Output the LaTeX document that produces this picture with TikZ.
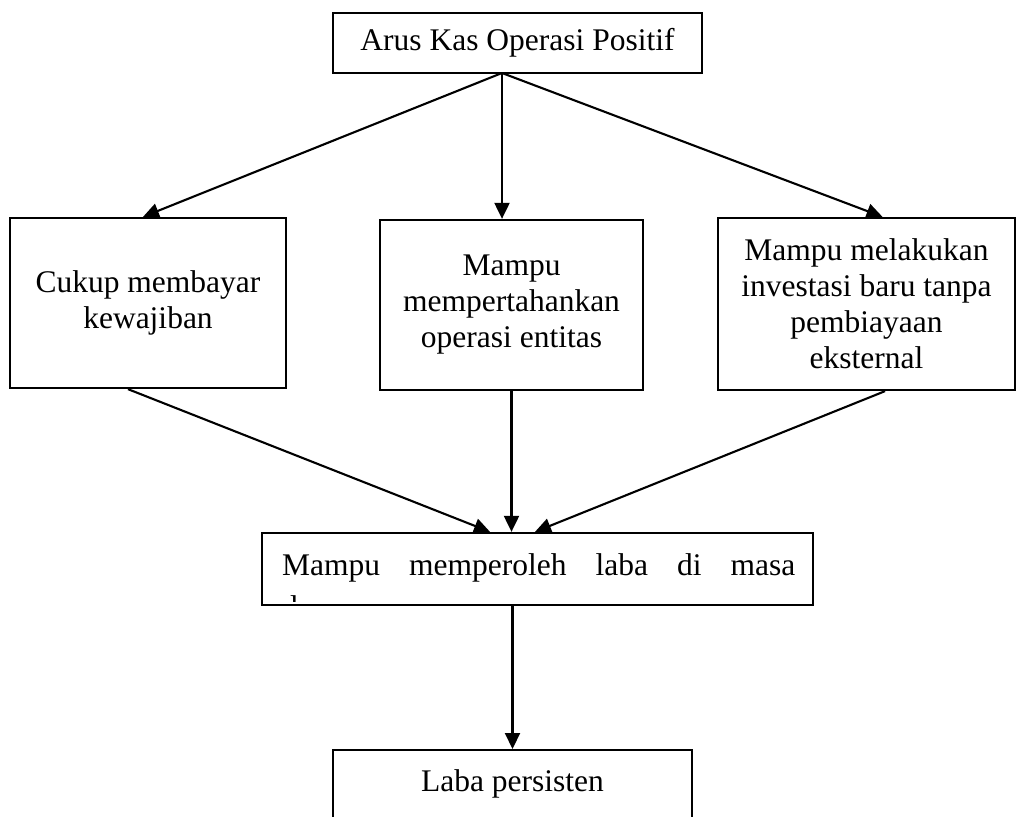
\documentclass[tikz,border=0pt]{standalone}
\usepackage{fontspec}
\setmainfont{Liberation Serif}
\usetikzlibrary{arrows.meta}
\tikzset{
  kotak/.style={draw, line width=2.3pt, align=center, inner sep=0pt, font=\fontsize{31.5pt}{36pt}\selectfont},
  panah/.style={line width=2.1pt, -{Triangle[length=16pt,width=15pt]}}
}
\begin{document}
\begin{tikzpicture}[x=1pt,y=-1pt]
   \useasboundingbox (0,0) rectangle (1019,816);
   \node[kotak, minimum width=369pt, minimum height=60pt] (kas) at (517.5,43) {Arus Kas Operasi Positif};
   \node[kotak, minimum width=276pt, minimum height=170pt] (bayar) at (148,303) {Cukup membayar\\kewajiban};
   \node[kotak, minimum width=263pt, minimum height=170pt] (tahan) at (511.5,305) {Mampu\\mempertahankan\\operasi entitas};
   \node[kotak, minimum width=297pt, minimum height=172pt] (invest) at (866.5,304) {Mampu melakukan\\investasi baru tanpa\\pembiayaan\\eksternal};
   \node[kotak, minimum width=551pt, minimum height=72pt] (laba) at (537.5,569) {};
   \begin{scope}
      \clip (264,535) rectangle (811,601);
      \node[anchor=base west, inner sep=0pt] (labatxt) at (282,575)
         {\parbox[t]{513pt}{\fontsize{31.5pt}{42pt}\selectfont Mampu memperoleh laba di masa\linebreak depan}};
   \end{scope}
   \node[kotak, minimum width=359pt, inner ysep=10pt, text height=31pt, text depth=80pt, anchor=north] (persist) at (512.5,749) {Laba persisten};
   \coordinate (kasS) at (502,73);
   \draw[panah] (kasS) -- ([xshift=-5pt]bayar.north);
   \draw[panah] (kasS) -- (tahan.north -| kasS);
   \draw[panah] (kasS) -- ([xshift=16pt]invest.north);
   \draw[panah] ([xshift=-20pt]bayar.south) -- ([xshift=-47.5pt]laba.north);
   \draw[panah] (tahan.south) -- (laba.north -| tahan.south);
   \draw[panah] ([xshift=18.5pt]invest.south) -- ([xshift=-2.5pt]laba.north);
   \draw[panah] (laba.south -| persist.north) -- (persist.north);
\end{tikzpicture}
\end{document}
